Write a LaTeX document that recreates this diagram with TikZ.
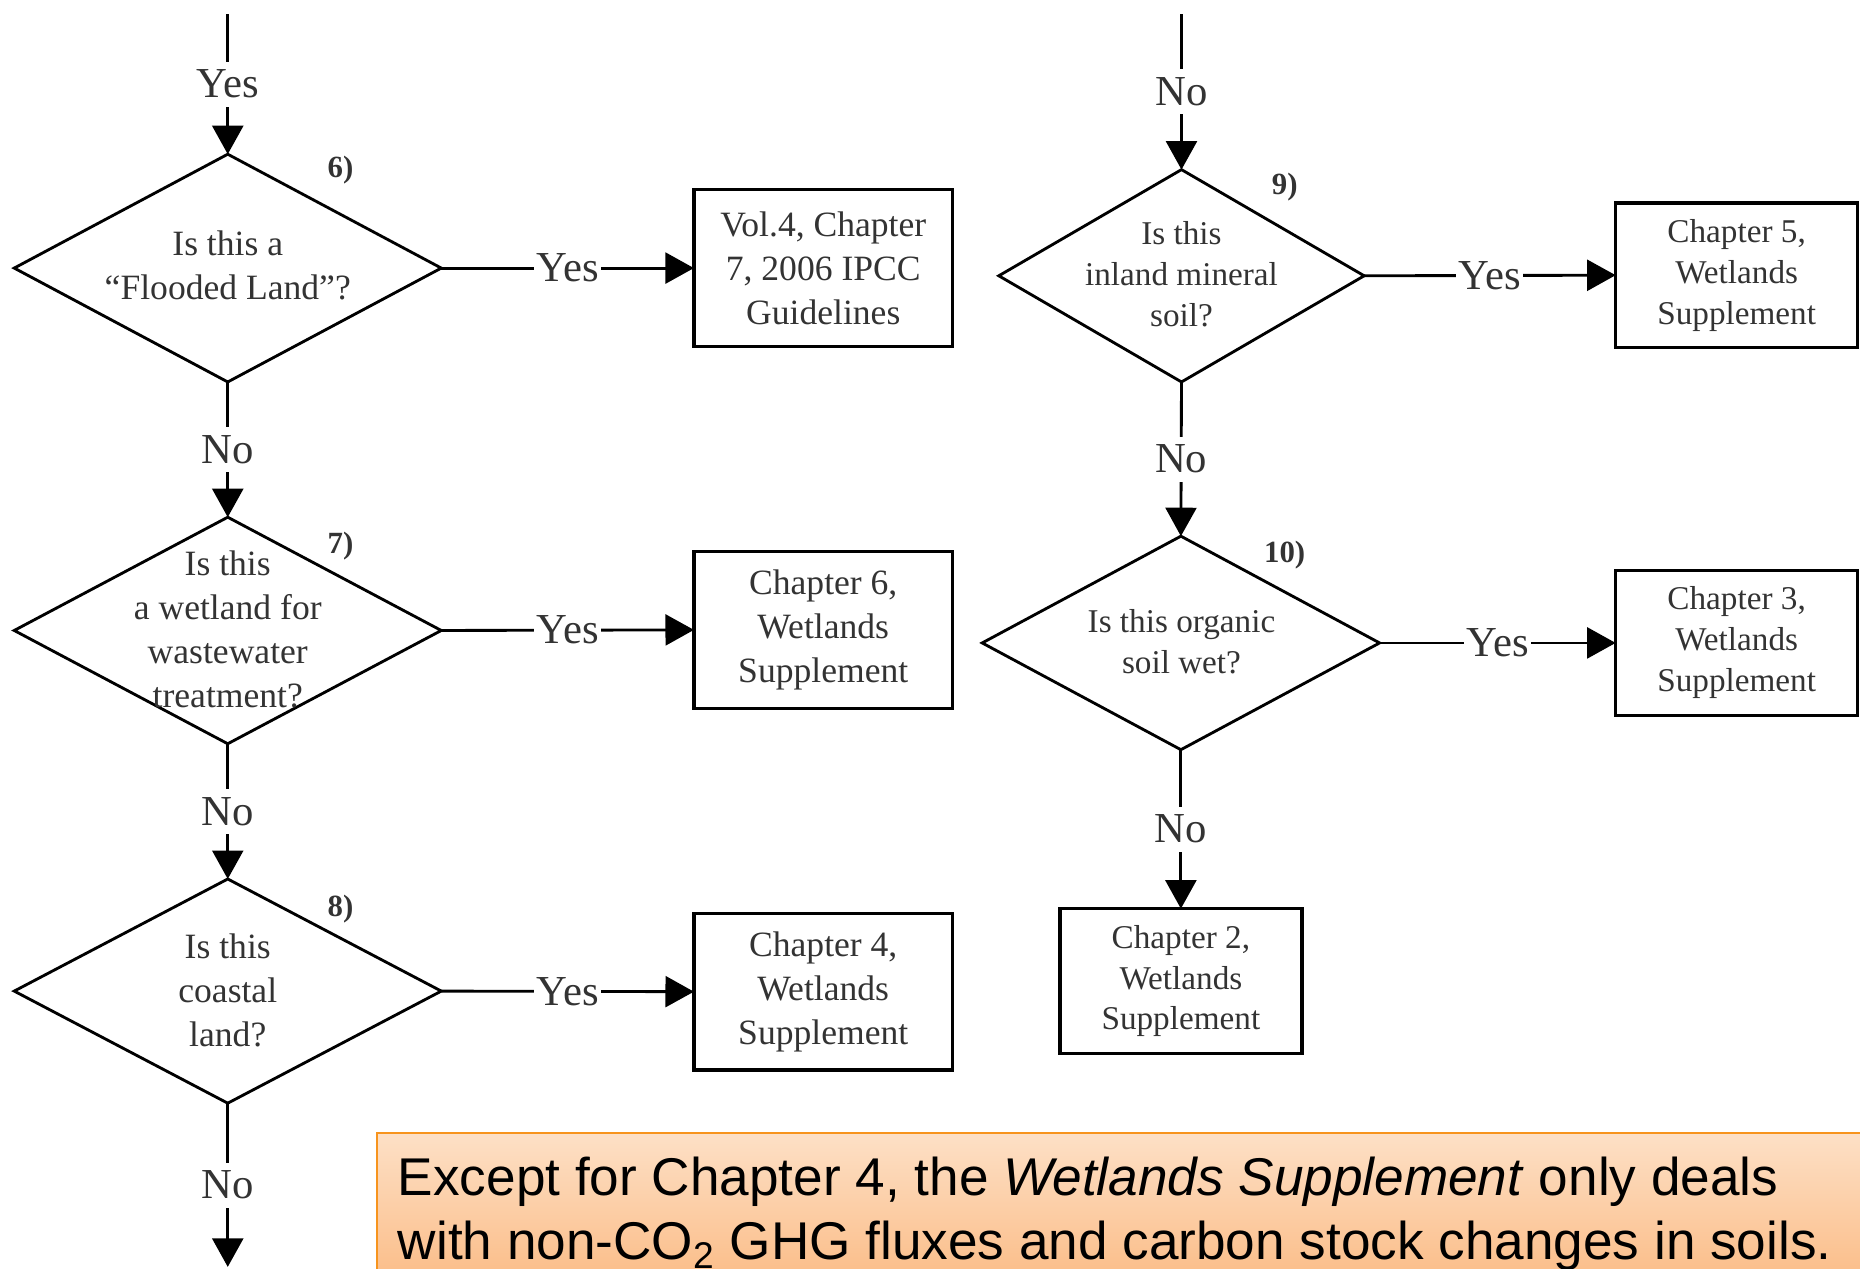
\documentclass[tikz,border=0pt]{standalone}
\usepackage{fontspec}
\setmainfont{Liberation Serif}
\newfontfamily\notesans{Liberation Sans}
\usetikzlibrary{shapes.geometric,arrows.meta}
\definecolor{txt}{HTML}{333333}
\definecolor{orgline}{HTML}{F7941D}
\definecolor{orgtop}{HTML}{FDE0C6}
\definecolor{orgbot}{HTML}{FBBE8A}
\begin{document}
\begin{tikzpicture}[x=0.5pt,y=-0.5pt,
 dia/.style={draw,shape=diamond,line width=1.2pt,inner sep=0pt,outer sep=0pt},
 qtxtL/.style={align=center,text=txt,font=\fontsize{15}{18.5}\selectfont,inner sep=0pt},
 qtxtR/.style={align=center,text=txt,font=\fontsize{14}{17.25}\selectfont,inner sep=0pt},
 resL/.style={draw,line width=1.4pt,inner sep=0pt,outer sep=0pt,align=center,text=txt,
   font=\fontsize{15}{18.5}\selectfont,minimum width=109pt,minimum height=66pt},
 resR/.style={draw,line width=1.4pt,inner sep=0pt,outer sep=0pt,align=center,text=txt,
   font=\fontsize{14}{17.25}\selectfont,minimum width=102pt,minimum height=61pt},
 lbl/.style={fill=white,text=txt,font=\fontsize{18}{20}\selectfont,inner xsep=1pt,inner ysep=3.5pt},
 num/.style={font=\fontsize{13}{15}\selectfont\bfseries,text=txt,inner sep=0pt},
 arr/.style={line width=1.2pt,-{Triangle[length=12pt,width=13pt]}},
]
\useasboundingbox (0,0) rectangle (1568,1069);

% diamonds
\node[dia,minimum width=180pt,minimum height=96pt] (d6) at (192,226) {};
\node[dia,minimum width=180pt,minimum height=95.5pt] (d7) at (192,531.5) {};
\node[dia,minimum width=180pt,minimum height=94.5pt] (d8) at (192,835.5) {};
\node[dia,minimum width=154pt,minimum height=89.5pt] (d9) at (996,232.5) {};
\node[dia,minimum width=167.5pt,minimum height=90pt] (d10) at (995.5,542) {};

\node[qtxtL] (q6) at (192,224) {Is this a\\“Flooded Land”?};
\node[qtxtL] (q7) at (192,530.5) {Is this\\a wetland for\\wastewater\\treatment?};
\node[qtxtL] (q8) at (192,835) {Is this\\coastal\\land?};
\node[qtxtR] (q9) at (996,231.5) {Is this\\inland mineral\\soil?};
\node[qtxtR] (q10) at (996,541) {Is this organic\\soil wet?};

\node[num] (n6) at (287,143) {6)};
\node[num] (n7) at (287,460) {7)};
\node[num] (n8) at (287,766) {8)};
\node[num] (n9) at (1083,158) {9)};
\node[num] (n10) at (1083,468) {10)};

% result boxes
\node[resL] (b6) at (694,226) {Vol.4, Chapter\\7, 2006 IPCC\\Guidelines};
\node[resL] (b7) at (694,531) {Chapter 6,\\Wetlands\\Supplement};
\node[resL] (b8) at (694,836) {Chapter 4,\\Wetlands\\Supplement};
\node[resR] (b9) at (1464,232) {Chapter 5,\\Wetlands\\Supplement};
\node[resR] (b10) at (1464,542) {Chapter 3,\\Wetlands\\Supplement};
\node[resR] (b2) at (995.5,827) {Chapter 2,\\Wetlands\\Supplement};

% free ends
\coordinate (tl) at (192,12);
\coordinate (tr) at (996,12);
\coordinate (bl) at (192,1068);

% connectors
\draw[arr] (tl) -- node[lbl] (y0) {Yes} (d6.north);
\draw[arr] (d6.east) -- node[lbl] (y6) {Yes} (b6.west);
\draw[arr] (d6.south) -- node[lbl] (n6l) {No} (d7.north);
\draw[arr] (d7.east) -- node[lbl] (y7) {Yes} (b7.west);
\draw[arr] (d7.south) -- node[lbl] (n7l) {No} (d8.north);
\draw[arr] (d8.east) -- node[lbl] (y8) {Yes} (b8.west);
\draw[arr] (d8.south) -- node[lbl] (n8l) {No} (bl);

\draw[arr] (tr) -- node[lbl] (n0) {No} (d9.north);
\draw[arr] (d9.east) -- node[lbl] (y9) {Yes} (b9.west);
\draw[arr] (d9.south) -- node[lbl] (n9l) {No} (d10.north);
\draw[arr] (d10.east) -- node[lbl] (y10) {Yes} (b10.west);
\draw[arr] (d10.south) -- node[lbl] (n10l) {No} (b2.north);

% note box
\path[top color=orgtop,bottom color=orgbot,draw=orgline,line width=1pt]
  (318,955) rectangle (1600,1075);
\node[anchor=base west,inner sep=0pt,align=left,
  font=\notesans\fontsize{22.4}{27}\selectfont] (note) at (335,1062)
  {Except for Chapter 4, the \textit{Wetlands Supplement} only deals\\
   with non-CO\textsubscript{2} GHG fluxes and carbon stock changes in soils.};
\end{tikzpicture}
\end{document}
